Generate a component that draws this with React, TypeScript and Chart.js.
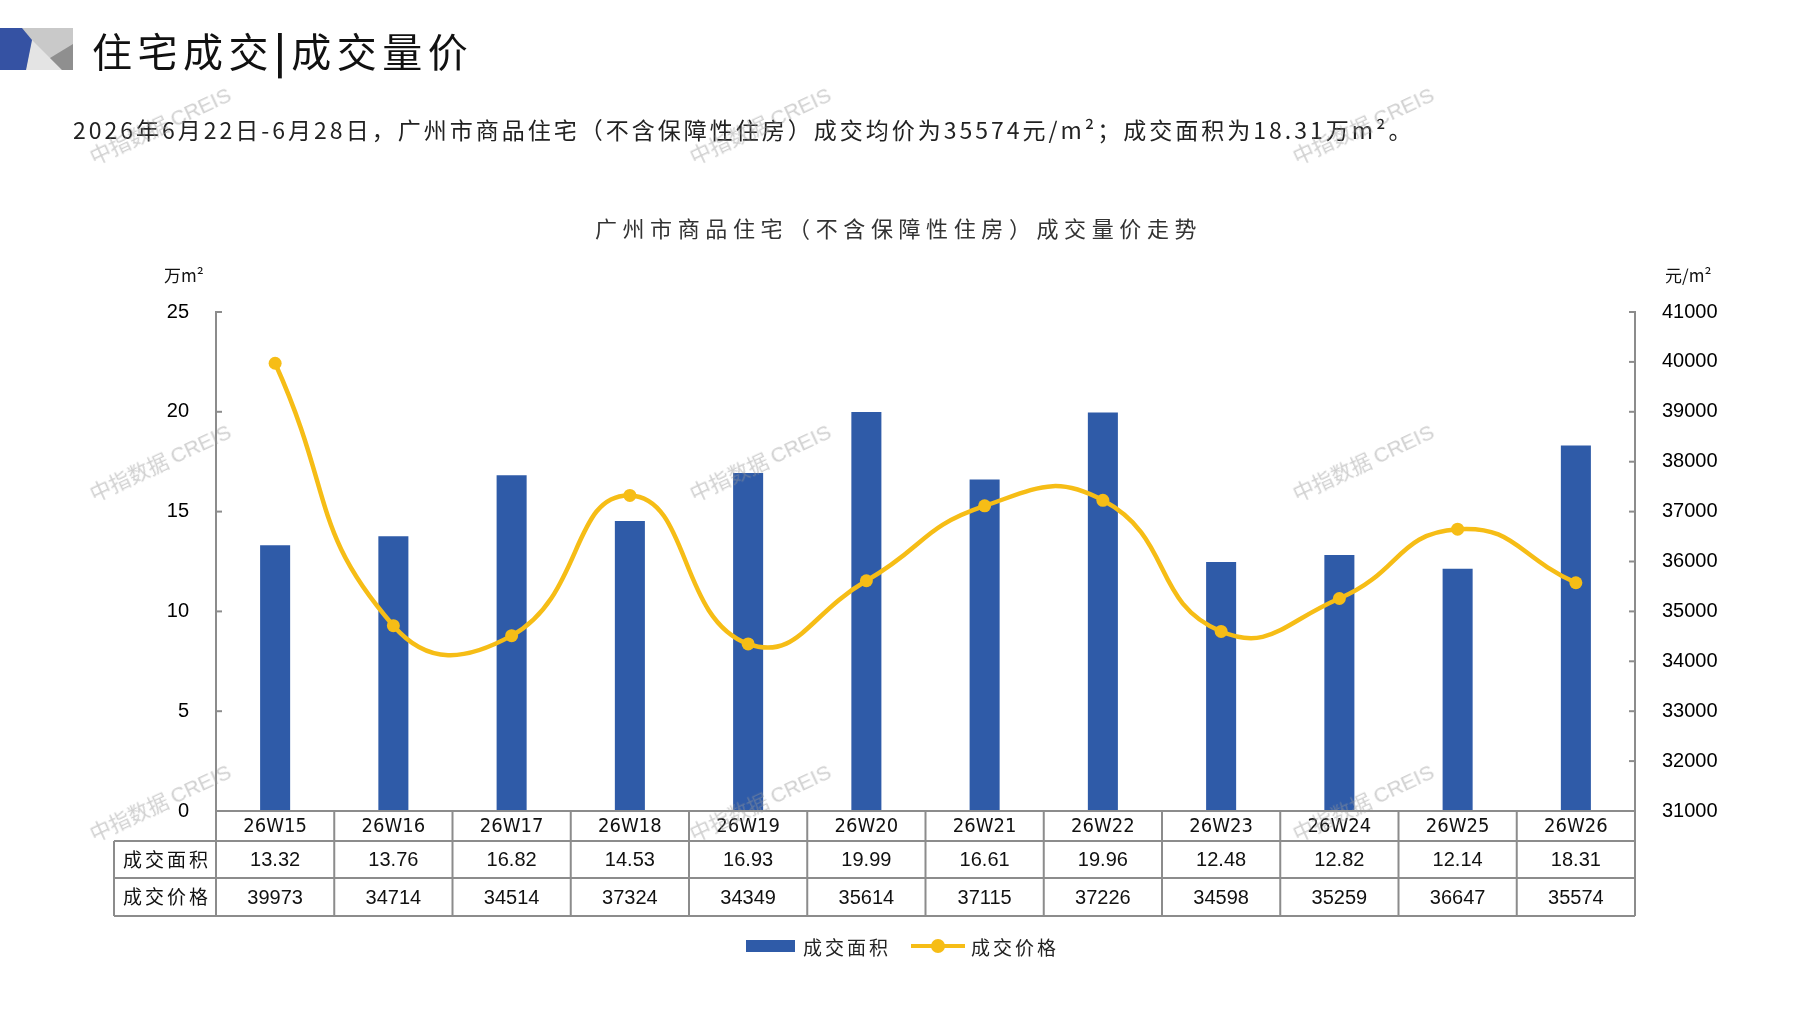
import React, { useEffect, useRef } from 'react';
import { Chart, registerables } from 'chart.js';

Chart.register(...registerables);

const weeks = ['26W15', '26W16', '26W17', '26W18', '26W19', '26W20', '26W21', '26W22', '26W23', '26W24', '26W25', '26W26'];
const areaValues = [13.32, 13.76, 16.82, 14.53, 16.93, 19.99, 16.61, 19.96, 12.48, 12.82, 12.14, 18.31];
const priceValues = [39973, 34714, 34514, 37324, 34349, 35614, 37115, 37226, 34598, 35259, 36647, 35574];
const rowHeaders = ['成交面积', '成交价格'];
const seriesNames = ['成交面积', '成交价格'];

const BAR_COLOR = '#2F5BA8';
const LINE_COLOR = '#F6BD16';
const GRID_COLOR = '#8c8c8c';
const CJK = '"Noto Sans CJK SC", sans-serif';
const NUM = '"Liberation Sans", Arial, sans-serif';
const NARROW = '"Liberation Sans Narrow", "DejaVu Sans Condensed", sans-serif';

const watermarks = [
  [160, 124], [760, 124], [1363, 124],
  [160, 461], [760, 461], [1363, 461],
  [160, 801], [760, 801], [1363, 801],
];

// inside tick marks + the data table under the plot
const tablePlugin = {
  id: 'tablePlugin',
  afterDraw(chart: any) {
    const { ctx, chartArea } = chart;
    const { left, right, bottom } = chartArea;
    const yL = chart.scales.y;
    const yR = chart.scales.y1;
    ctx.save();
    ctx.strokeStyle = GRID_COLOR;
    ctx.lineWidth = 2;
    yL.ticks.forEach((t: any) => {
      const py = yL.getPixelForValue(t.value);
      ctx.beginPath();
      ctx.moveTo(left, py);
      ctx.lineTo(left + 6, py);
      ctx.stroke();
    });
    yR.ticks.forEach((t: any) => {
      const py = yR.getPixelForValue(t.value);
      ctx.beginPath();
      ctx.moveTo(right, py);
      ctx.lineTo(right - 6, py);
      ctx.stroke();
    });

    const tableLeft = 114;
    const rows = [bottom, bottom + 30, bottom + 67, bottom + 105];
    const n = weeks.length;
    const colW = (right - left) / n;

    ctx.beginPath();
    ctx.moveTo(left, rows[0]);
    ctx.lineTo(right, rows[0]);
    for (let r = 1; r < rows.length; r++) {
      ctx.moveTo(tableLeft, rows[r]);
      ctx.lineTo(right, rows[r]);
    }
    ctx.moveTo(tableLeft, rows[1]);
    ctx.lineTo(tableLeft, rows[3]);
    for (let i = 0; i <= n; i++) {
      const x = left + i * colW;
      ctx.moveTo(x, rows[0]);
      ctx.lineTo(x, rows[3]);
    }
    ctx.stroke();

    ctx.fillStyle = '#111';
    ctx.textAlign = 'center';
    ctx.textBaseline = 'middle';
    weeks.forEach((w, i) => {
      const cx = left + (i + 0.5) * colW;
      ctx.font = `20px ${NARROW}`;
      ctx.fillText(w, cx, (rows[0] + rows[1]) / 2 + 1);
      ctx.font = `20px ${NUM}`;
      ctx.fillText(areaValues[i].toFixed(2), cx, (rows[1] + rows[2]) / 2 + 1);
      ctx.fillText(String(priceValues[i]), cx, (rows[2] + rows[3]) / 2 + 1);
    });
    ctx.font = `19px ${CJK}`;
    (ctx as any).letterSpacing = '3px';
    rowHeaders.forEach((h, r) => {
      ctx.fillText(h, (tableLeft + left) / 2 + 2, (rows[r + 1] + rows[r + 2]) / 2);
    });
    ctx.restore();
  },
};

const ComboChart: React.FC = () => {
  const chartRef = useRef<HTMLCanvasElement>(null);
  const chartInstance = useRef<Chart | null>(null);

  useEffect(() => {
    if (!chartRef.current) return;
    if (chartInstance.current) chartInstance.current.destroy();
    const ctx = chartRef.current.getContext('2d');
    if (!ctx) return;

    chartInstance.current = new Chart(ctx, {
      type: 'bar',
      data: {
        labels: weeks,
        datasets: [
          {
            type: 'line',
            label: seriesNames[1],
            data: priceValues,
            yAxisID: 'y1',
            borderColor: LINE_COLOR,
            backgroundColor: LINE_COLOR,
            borderWidth: 4.5,
            pointRadius: 6.5,
            pointBackgroundColor: LINE_COLOR,
            pointBorderWidth: 0,
            tension: 0.5,
            order: 0,
          } as any,
          {
            type: 'bar',
            label: seriesNames[0],
            data: areaValues,
            yAxisID: 'y',
            backgroundColor: BAR_COLOR,
            barPercentage: 0.254,
            categoryPercentage: 1,
            order: 1,
          },
        ],
      },
      plugins: [tablePlugin],
      options: {
        responsive: true,
        maintainAspectRatio: false,
        animation: false,
        layout: { padding: { left: 0, right: 0, top: 312, bottom: 199 } },
        plugins: {
          legend: { display: false },
          tooltip: { enabled: false },
        },
        scales: {
          x: { display: false },
          y: {
            position: 'left',
            min: 0,
            max: 25,
            ticks: { stepSize: 5, padding: 19, color: '#000', font: { size: 20, family: NUM } },
            grid: { display: false },
            border: { color: GRID_COLOR, width: 2 },
            afterFit: (s: any) => { s.width = 216; },
          },
          y1: {
            position: 'right',
            min: 31000,
            max: 41000,
            ticks: {
              stepSize: 1000,
              padding: 19,
              color: '#000',
              font: { size: 20, family: NUM },
              callback: (v: any) => String(v),
            },
            grid: { display: false },
            border: { color: GRID_COLOR, width: 2 },
            afterFit: (s: any) => { s.width = 162; },
          },
        },
      },
    });

    return () => {
      if (chartInstance.current) {
        chartInstance.current.destroy();
        chartInstance.current = null;
      }
    };
  }, []);

  return (
    <div style={{ position: 'absolute', left: 0, top: 0, width: 1797, height: 1010 }}>
      <canvas ref={chartRef}></canvas>
    </div>
  );
};

const App: React.FC = () => {
  return (
    <div style={{ position: 'absolute', left: 0, top: 0, width: 1797, height: 1010, background: '#fff', overflow: 'hidden', fontFamily: CJK }}>
      <ComboChart />

      <svg style={{ position: 'absolute', left: 0, top: 28 }} width={73} height={42} viewBox="0 0 73 42">
        <polygon points="0,0 73,0 73,42 0,42" fill="#c9c9c9" />
        <polygon points="26,42 32,12 62,42" fill="#e4e4e4" />
        <polygon points="73,16 73,42 62,42 50,30" fill="#8f8f8f" />
        <polygon points="0,0 22,0 32,12 26,42 0,42" fill="#3552A3" />
      </svg>
      <div style={{ position: 'absolute', left: 92, top: 22, fontSize: 40, lineHeight: '56px', color: '#111', letterSpacing: 5.5, whiteSpace: 'nowrap' }}>
        住宅成交<span style={{ fontWeight: 700 }}>|</span>成交量价
      </div>

      <div style={{ position: 'absolute', left: 73, top: 113, fontSize: 23, lineHeight: '32px', color: '#222', whiteSpace: 'nowrap', letterSpacing: 3 }}>
        2026年6月22日-6月28日，广州市商品住宅（不含保障性住房）成交均价为35574元/m²；成交面积为18.31万m²。
      </div>

      <div style={{ position: 'absolute', left: 0, width: 1797, top: 212, textAlign: 'center', fontSize: 22, lineHeight: '30px', color: '#333', letterSpacing: 5.6, whiteSpace: 'nowrap' }}>
        广州市商品住宅（不含保障性住房）成交量价走势
      </div>

      <div style={{ position: 'absolute', left: 164, top: 263, fontSize: 17, lineHeight: '24px', color: '#111', whiteSpace: 'nowrap' }}>万m²</div>
      <div style={{ position: 'absolute', left: 1665, top: 263, fontSize: 17, lineHeight: '24px', color: '#111', whiteSpace: 'nowrap' }}>元/m²</div>

      <div style={{ position: 'absolute', left: 746, top: 934, height: 24, display: 'flex', alignItems: 'center', fontSize: 19, color: '#222', letterSpacing: 3, whiteSpace: 'nowrap' }}>
        <span style={{ display: 'inline-block', width: 49, height: 12, background: BAR_COLOR, marginRight: 8 }} />
        <span>{seriesNames[0]}</span>
        <span style={{ position: 'relative', display: 'inline-block', width: 54, height: 14, marginLeft: 20, marginRight: 6 }}>
          <span style={{ position: 'absolute', left: 0, right: 0, top: 5, height: 4, background: LINE_COLOR }} />
          <span style={{ position: 'absolute', left: 20, top: 0, width: 14, height: 14, borderRadius: 7, background: LINE_COLOR }} />
        </span>
        <span>{seriesNames[1]}</span>
      </div>

      {watermarks.map(([x, y], i) => (
        <div
          key={i}
          style={{
            position: 'absolute', left: x - 90, top: y - 14, width: 180, textAlign: 'center',
            fontSize: 21, lineHeight: '28px', color: 'rgba(150,150,150,0.45)', whiteSpace: 'nowrap',
            transform: 'rotate(-25deg)', pointerEvents: 'none',
          }}
        >
          中指数据 <span style={{ fontFamily: NUM }}>CREIS</span>
        </div>
      ))}
    </div>
  );
};

export default App;
